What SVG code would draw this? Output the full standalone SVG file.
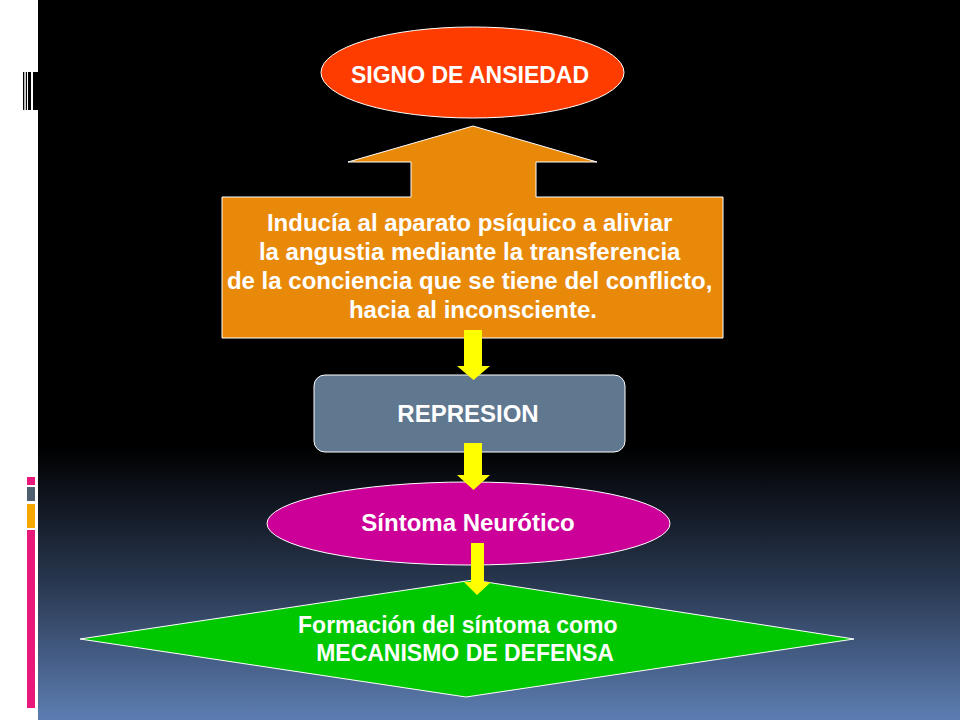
<svg xmlns="http://www.w3.org/2000/svg" width="960" height="720" viewBox="0 0 960 720">
<defs>
<linearGradient id="bg" x1="0" y1="0" x2="0" y2="720" gradientUnits="userSpaceOnUse">
<stop offset="0" stop-color="#000000"/>
<stop offset="0.62" stop-color="#000000"/>
<stop offset="0.8" stop-color="#26344b"/>
<stop offset="1" stop-color="#5d7db2"/>
</linearGradient>
<style>
.t{font-family:"Liberation Sans",Arial,sans-serif;font-weight:bold;fill:#ffffff;text-anchor:middle;}
.arrow{fill:#ffff00;}
.node{stroke:#ffffff;stroke-width:1;}
</style>
</defs>
<rect x="0" y="0" width="960" height="720" fill="#ffffff"/>
<rect x="38" y="0" width="922" height="720" fill="url(#bg)"/>
<g id="decor-top">
<rect x="23" y="72" width="1.3" height="38" fill="#000"/>
<rect x="25.8" y="72" width="1.2" height="38" fill="#000"/>
<rect x="28" y="72" width="3" height="38" fill="#000"/>
<rect x="33" y="72" width="5" height="38" fill="#000"/>
</g>
<g id="decor-bottom">
<rect x="27" y="477" width="8" height="8" fill="#e8197a"/>
<rect x="27" y="487" width="8" height="14" fill="#4e5f70"/>
<rect x="27" y="504" width="8" height="24" fill="#f5a800"/>
<rect x="27" y="530" width="8" height="178" fill="#e8197a"/>
</g>
<g id="signo">
<ellipse class="node" cx="472.5" cy="72.5" rx="151.5" ry="45.5" fill="#ff3c00"/>
<text class="t" x="470" y="83" font-size="23">SIGNO DE ANSIEDAD</text>
</g>
<g id="inducia">
<path class="node" d="M222,197 L411,197 L411,162 L348,162 L473,126 L597,162 L536,162 L536,197 L723,197 L723,338 L222,338 Z" fill="#e8890a"/>
<text class="t" font-size="24">
<tspan x="473" y="231">Inducía al aparato psíquico a aliviar</tspan>
<tspan x="473" y="260">la angustia mediante la transferencia</tspan>
<tspan x="473" y="289">de la conciencia que se tiene del conflicto,</tspan>
<tspan x="473" y="318">hacia al inconsciente.</tspan>
</text>
</g>
<g id="represion">
<rect class="node" x="314" y="375" width="311" height="77" rx="11" fill="#60788f"/>
<text class="t" x="468" y="422" font-size="24">REPRESION</text>
</g>
<g id="sintoma">
<ellipse class="node" cx="468.5" cy="523.5" rx="201.5" ry="41.5" fill="#cc0099"/>
<text class="t" x="468" y="531" font-size="24">Síntoma Neurótico</text>
</g>
<g id="formacion">
<path class="node" d="M473,580 L854,639 L466,697 L80,639 Z" fill="#00c800"/>
<text class="t" font-size="23">
<tspan x="461" y="633">Formación del síntoma como</tspan>
<tspan x="465" y="661">MECANISMO DE DEFENSA</tspan>
</text>
</g>
<g id="connectors">
<path class="arrow" d="M464,330 H482 V366 H490 L473.5,380 L457,366 H464 Z"/>
<path class="arrow" d="M464,443 H482 V475 H490 L473.5,490 L457,475 H464 Z"/>
<path class="arrow" d="M471,543 H484 V582 H491 L477,595 L464,582 H471 Z"/>
</g>
</svg>
